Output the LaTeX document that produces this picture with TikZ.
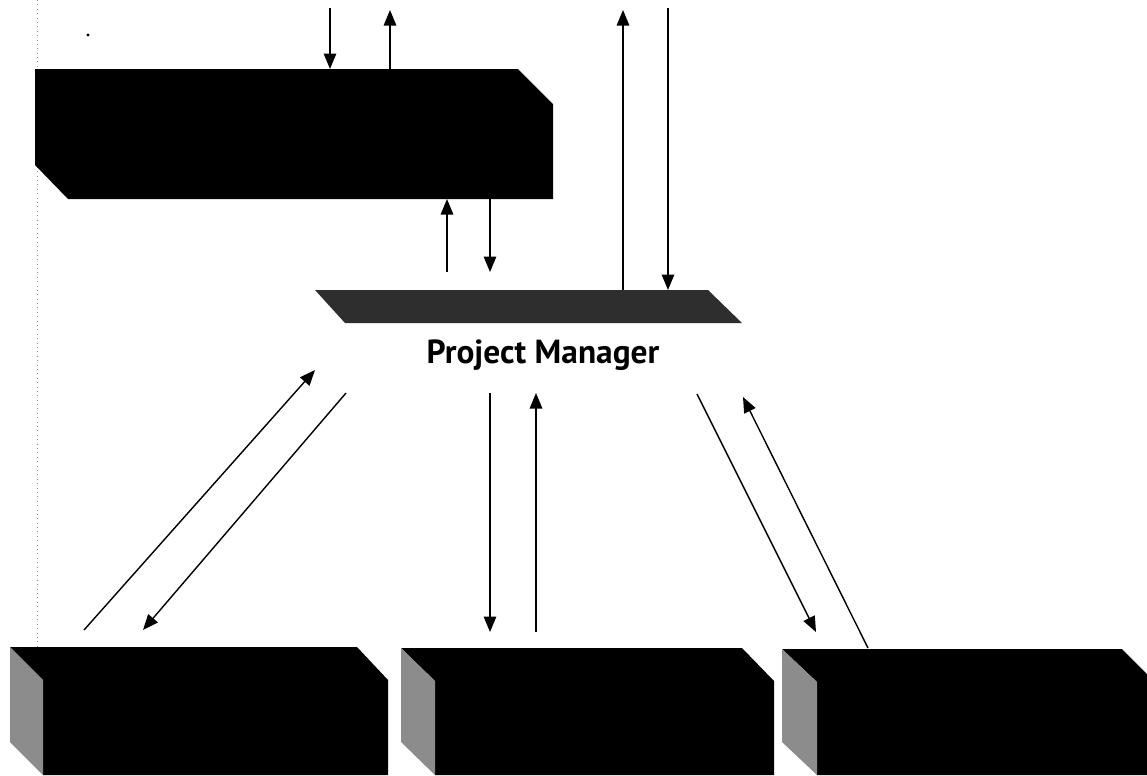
\documentclass[tikz,border=0pt]{standalone}
\usepackage{fontspec}
\setmainfont{PT Sans}
\usetikzlibrary{arrows.meta}
\tikzset{
  darkbox/.style={fill=black},
  barfill/.style={fill=black!82},
  sideface/.style={fill=black!45},
  flow/.style={draw=black, line width=0.8pt, -{Triangle[length=0.31cm,width=0.25cm]}},
  label/.style={font=\bfseries\fontsize{19}{22}\selectfont, inner sep=0pt}
}
\begin{document}
\begin{tikzpicture}[x=0.02cm,y=-0.02cm]
\useasboundingbox (0,0) rectangle (1147,775);
\fill[white] (0,0) rectangle (1147,775);
\clip (0,0) rectangle (1147,775);

% scan artefacts
\draw[black!45, line width=0.5pt, dotted] (37,0) -- (37,647);
\fill[black] (88,35) circle (1.6);

% top box
\fill[darkbox] (35,69) -- (518,69) -- (553,104) -- (553,199) -- (68,199) -- (35,165) -- cycle;

% project manager bar
\fill[barfill] (315,290) -- (708,290) -- (742,323) -- (345,323) -- cycle;
\node[label] (pm) at (543,355) {Project Manager};

% bottom boxes
\fill[darkbox] (10,647) -- (357,647) -- (388,680) -- (388,775) -- (43,775) -- (43,680) -- cycle;
\fill[sideface] (10,647) -- (43,680) -- (43,775) -- (10,742) -- cycle;

\fill[darkbox] (401,648) -- (742,648) -- (774,681) -- (774,775) -- (435,775) -- (435,681) -- cycle;
\fill[sideface] (401,648) -- (435,681) -- (435,775) -- (401,742) -- cycle;

\fill[darkbox] (782,649) -- (1122,649) -- (1155,682) -- (1155,775) -- (817,775) -- (817,682) -- cycle;
\fill[sideface] (782,649) -- (817,682) -- (817,775) -- (782,742) -- cycle;

% connector end points
\coordinate (a1s) at (330,8);   \coordinate (a1e) at (330,69);
\coordinate (a2s) at (390,69);  \coordinate (a2e) at (390,10);
\coordinate (a3s) at (447,272); \coordinate (a3e) at (447,199);
\coordinate (a4s) at (490,199); \coordinate (a4e) at (490,272);
\coordinate (a5s) at (623,290); \coordinate (a5e) at (623,10);
\coordinate (a6s) at (668,8);   \coordinate (a6e) at (668,290);
\coordinate (a7s) at (84,630);  \coordinate (a7e) at (315,370);
\coordinate (a8s) at (346,393); \coordinate (a8e) at (143,630);
\coordinate (a9s) at (490,393); \coordinate (a9e) at (490,632);
\coordinate (a10s) at (536,632); \coordinate (a10e) at (536,393);
\coordinate (a11s) at (697,394); \coordinate (a11e) at (816,632);
\coordinate (a12s) at (868,648); \coordinate (a12e) at (743,397);

\draw[flow] (a1s) -- (a1e);
\draw[flow] (a2s) -- (a2e);
\draw[flow] (a3s) -- (a3e);
\draw[flow] (a4s) -- (a4e);
\draw[flow] (a5s) -- (a5e);
\draw[flow] (a6s) -- (a6e);
\draw[flow] (a7s) -- (a7e);
\draw[flow] (a8s) -- (a8e);
\draw[flow] (a9s) -- (a9e);
\draw[flow] (a10s) -- (a10e);
\draw[flow] (a11s) -- (a11e);
\draw[flow] (a12s) -- (a12e);
\end{tikzpicture}
\end{document}
